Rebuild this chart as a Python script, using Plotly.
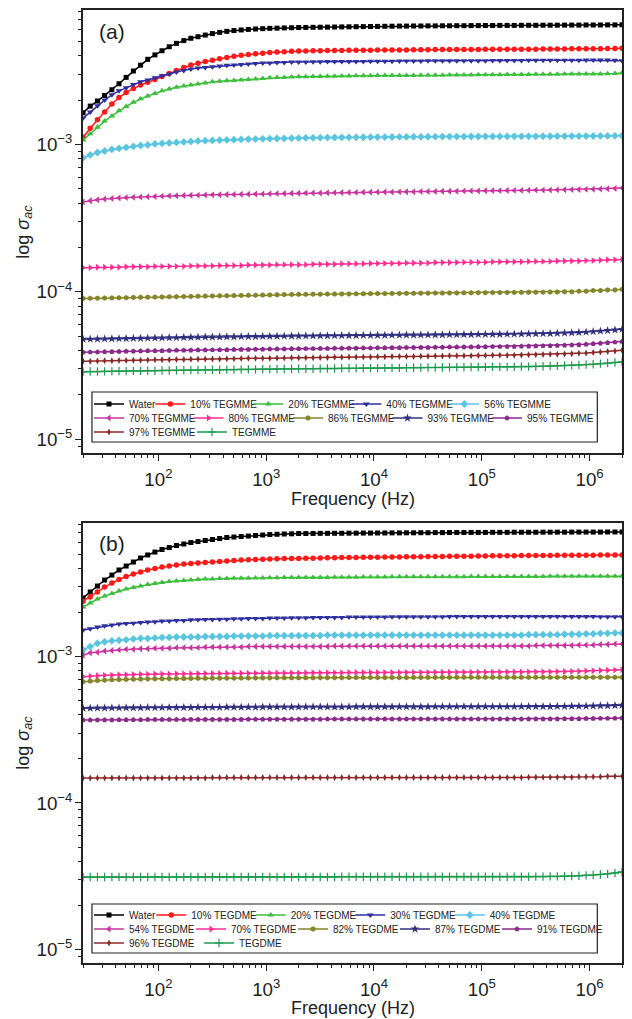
import plotly.graph_objects as go

# ---------------- data ----------------
freq_hz = [
    20, 23.3, 27.2, 31.7, 37.0, 43.1, 50.2, 58.6, 68.3, 79.6, 92.8, 108, 126, 147, 172,
    200, 233, 272, 317, 370, 431, 502, 586, 683, 796, 928, 1080, 1260, 1470, 1720,
    2000, 2330, 2720, 3170, 3700, 4310, 5020, 5860, 6830, 7960, 9280, 10800, 12600, 14700, 17200,
    20000, 23300, 27200, 31700, 37000, 43100, 50200, 58600, 68300, 79600, 92800, 108000, 126000, 147000, 172000,
    200000, 233000, 272000, 317000, 370000, 431000, 502000, 586000, 683000, 796000, 928000, 1080000, 1260000, 1470000, 1720000,
    2000000,
]

# Panel (a): water / TEGMME mixtures
a_names = ["Water", "10% TEGMME", "20% TEGMME", "40% TEGMME", "56% TEGMME", "70% TEGMME",
           "80% TEGMME", "86% TEGMME", "93% TEGMME", "95% TEGMME", "97% TEGMME", "TEGMME"]
a_unit = [1e-3, 1e-3, 1e-3, 1e-3, 1e-3, 1e-3, 1e-5, 1e-5, 1e-5, 1e-5, 1e-5, 1e-5]

a_water = [1.64, 1.82, 1.97, 2.15, 2.35, 2.58, 2.85, 3.15, 3.45, 3.78, 4.05, 4.32, 4.60, 4.85, 5.06,
           5.25, 5.38, 5.52, 5.65, 5.76, 5.85, 5.92, 5.98, 6.03, 6.07, 6.10, 6.13, 6.15, 6.17, 6.19,
           6.21, 6.22, 6.23, 6.24, 6.25, 6.26, 6.27, 6.28, 6.29, 6.30, 6.31, 6.32, 6.33, 6.34, 6.35,
           6.35, 6.36, 6.36, 6.37, 6.37, 6.38, 6.38, 6.39, 6.39, 6.40, 6.40, 6.41, 6.41, 6.42, 6.42,
           6.42, 6.43, 6.43, 6.43, 6.44, 6.44, 6.44, 6.45, 6.45, 6.45, 6.46, 6.46, 6.46, 6.47, 6.47,
           6.48]
a_10 = [1.12, 1.29, 1.47, 1.66, 1.88, 2.08, 2.25, 2.40, 2.53, 2.64, 2.76, 2.89, 3.03, 3.18, 3.32,
        3.46, 3.56, 3.65, 3.73, 3.81, 3.89, 3.96, 4.02, 4.07, 4.12, 4.16, 4.20, 4.23, 4.26, 4.28,
        4.30, 4.31, 4.32, 4.32, 4.33, 4.34, 4.34, 4.35, 4.35, 4.36, 4.36, 4.37, 4.37, 4.38, 4.38,
        4.38, 4.39, 4.39, 4.39, 4.40, 4.40, 4.40, 4.41, 4.41, 4.41, 4.41, 4.42, 4.42, 4.42, 4.42,
        4.43, 4.43, 4.43, 4.43, 4.44, 4.44, 4.44, 4.44, 4.45, 4.45, 4.45, 4.46, 4.46, 4.47, 4.48,
        4.50]
a_20 = [1.07, 1.18, 1.31, 1.44, 1.56, 1.69, 1.81, 1.93, 2.04, 2.13, 2.22, 2.31, 2.38, 2.44, 2.49,
        2.53, 2.57, 2.61, 2.66, 2.68, 2.70, 2.72, 2.74, 2.76, 2.78, 2.80, 2.83, 2.85, 2.85, 2.87,
        2.88, 2.88, 2.89, 2.89, 2.90, 2.90, 2.91, 2.91, 2.92, 2.92, 2.92, 2.93, 2.93, 2.93, 2.94,
        2.94, 2.94, 2.95, 2.95, 2.95, 2.95, 2.96, 2.96, 2.96, 2.96, 2.97, 2.97, 2.97, 2.97, 2.98,
        2.98, 2.98, 2.98, 2.99, 2.99, 2.99, 2.99, 3.00, 3.00, 3.00, 3.00, 3.01, 3.01, 3.02, 3.03,
        3.05]
a_40 = [1.51, 1.66, 1.83, 2.00, 2.17, 2.31, 2.42, 2.55, 2.66, 2.74, 2.83, 2.92, 3.01, 3.10, 3.18,
        3.25, 3.30, 3.33, 3.36, 3.41, 3.44, 3.46, 3.49, 3.52, 3.54, 3.57, 3.57, 3.60, 3.60, 3.63,
        3.63, 3.63, 3.64, 3.64, 3.65, 3.65, 3.65, 3.66, 3.66, 3.66, 3.67, 3.67, 3.67, 3.67, 3.68,
        3.68, 3.68, 3.68, 3.69, 3.69, 3.69, 3.69, 3.70, 3.70, 3.70, 3.70, 3.70, 3.71, 3.71, 3.71,
        3.71, 3.71, 3.72, 3.72, 3.72, 3.72, 3.73, 3.73, 3.73, 3.73, 3.74, 3.74, 3.74, 3.74, 3.72,
        3.70]
a_56 = [0.810, 0.849, 0.882, 0.903, 0.925, 0.940, 0.954, 0.969, 0.984, 0.992, 1.008, 1.016, 1.024, 1.032, 1.040,
        1.048, 1.056, 1.060, 1.065, 1.069, 1.073, 1.077, 1.081, 1.085, 1.088, 1.091, 1.094, 1.097, 1.100, 1.103,
        1.105, 1.107, 1.109, 1.111, 1.113, 1.115, 1.116, 1.117, 1.118, 1.119, 1.120, 1.121, 1.122, 1.123, 1.124,
        1.125, 1.126, 1.127, 1.128, 1.129, 1.130, 1.130, 1.131, 1.131, 1.132, 1.132, 1.133, 1.133, 1.134, 1.134,
        1.135, 1.135, 1.136, 1.136, 1.137, 1.137, 1.138, 1.138, 1.139, 1.139, 1.140, 1.141, 1.142, 1.143, 1.145,
        1.148]
a_70 = [0.407, 0.415, 0.421, 0.426, 0.430, 0.433, 0.436, 0.438, 0.440, 0.442, 0.444, 0.446, 0.448, 0.449, 0.450,
        0.452, 0.453, 0.454, 0.455, 0.456, 0.457, 0.458, 0.459, 0.460, 0.461, 0.462, 0.463, 0.464, 0.465, 0.466,
        0.467, 0.468, 0.469, 0.469, 0.470, 0.471, 0.472, 0.472, 0.473, 0.474, 0.474, 0.475, 0.476, 0.476, 0.477,
        0.478, 0.478, 0.479, 0.480, 0.480, 0.481, 0.482, 0.482, 0.483, 0.484, 0.484, 0.485, 0.486, 0.486, 0.487,
        0.488, 0.488, 0.489, 0.490, 0.490, 0.491, 0.492, 0.493, 0.494, 0.495, 0.496, 0.497, 0.499, 0.501, 0.503,
        0.506]
a_80 = [14.6, 14.6, 14.7, 14.7, 14.7, 14.7, 14.8, 14.8, 14.8, 14.8, 14.9, 14.9, 14.9, 14.9, 14.9,
        15.0, 15.0, 15.0, 15.0, 15.1, 15.1, 15.1, 15.1, 15.2, 15.2, 15.2, 15.2, 15.3, 15.3, 15.3,
        15.3, 15.3, 15.4, 15.4, 15.4, 15.4, 15.5, 15.5, 15.5, 15.5, 15.6, 15.6, 15.6, 15.6, 15.6,
        15.7, 15.7, 15.7, 15.7, 15.8, 15.8, 15.8, 15.8, 15.9, 15.9, 15.9, 15.9, 16.0, 16.0, 16.0,
        16.0, 16.0, 16.1, 16.1, 16.1, 16.1, 16.2, 16.2, 16.2, 16.2, 16.3, 16.3, 16.4, 16.5, 16.5,
        16.6]
a_86 = [9.02, 9.04, 9.06, 9.08, 9.10, 9.12, 9.14, 9.16, 9.18, 9.20, 9.22, 9.24, 9.26, 9.28, 9.30,
        9.32, 9.34, 9.36, 9.38, 9.40, 9.42, 9.44, 9.46, 9.48, 9.50, 9.52, 9.54, 9.56, 9.58, 9.60,
        9.62, 9.63, 9.64, 9.65, 9.66, 9.67, 9.68, 9.69, 9.70, 9.71, 9.72, 9.73, 9.74, 9.75, 9.76,
        9.77, 9.78, 9.79, 9.80, 9.81, 9.82, 9.83, 9.84, 9.85, 9.86, 9.87, 9.88, 9.89, 9.90, 9.91,
        9.92, 9.93, 9.94, 9.95, 9.96, 9.97, 9.98, 10.0, 10.0, 10.1, 10.1, 10.2, 10.2, 10.3, 10.3,
        10.4]
a_93 = [4.77, 4.78, 4.79, 4.80, 4.81, 4.82, 4.83, 4.84, 4.85, 4.86, 4.87, 4.88, 4.89, 4.90, 4.91,
        4.92, 4.93, 4.94, 4.94, 4.95, 4.96, 4.96, 4.97, 4.98, 4.98, 4.99, 5.00, 5.00, 5.01, 5.02,
        5.02, 5.03, 5.03, 5.04, 5.04, 5.05, 5.05, 5.06, 5.06, 5.07, 5.07, 5.08, 5.08, 5.09, 5.09,
        5.10, 5.10, 5.11, 5.11, 5.12, 5.12, 5.13, 5.13, 5.14, 5.14, 5.15, 5.15, 5.16, 5.16, 5.17,
        5.17, 5.18, 5.19, 5.20, 5.21, 5.22, 5.24, 5.26, 5.28, 5.31, 5.34, 5.38, 5.42, 5.47, 5.52,
        5.57]
a_95 = [3.89, 3.90, 3.91, 3.92, 3.93, 3.94, 3.95, 3.96, 3.97, 3.98, 3.98, 3.99, 4.00, 4.01, 4.01,
        4.02, 4.03, 4.03, 4.04, 4.05, 4.05, 4.06, 4.07, 4.07, 4.08, 4.08, 4.09, 4.10, 4.10, 4.11,
        4.11, 4.12, 4.12, 4.13, 4.13, 4.14, 4.14, 4.15, 4.15, 4.16, 4.16, 4.17, 4.17, 4.18, 4.18,
        4.19, 4.19, 4.20, 4.20, 4.21, 4.21, 4.22, 4.22, 4.23, 4.23, 4.24, 4.24, 4.25, 4.25, 4.26,
        4.26, 4.27, 4.28, 4.29, 4.30, 4.31, 4.32, 4.34, 4.36, 4.38, 4.41, 4.44, 4.48, 4.52, 4.56,
        4.60]
a_97 = [3.38, 3.39, 3.40, 3.41, 3.41, 3.42, 3.43, 3.44, 3.44, 3.45, 3.46, 3.46, 3.47, 3.48, 3.48,
        3.49, 3.50, 3.50, 3.51, 3.51, 3.52, 3.52, 3.53, 3.54, 3.54, 3.55, 3.55, 3.56, 3.56, 3.57,
        3.57, 3.58, 3.58, 3.59, 3.59, 3.60, 3.60, 3.61, 3.61, 3.62, 3.62, 3.63, 3.63, 3.64, 3.64,
        3.65, 3.65, 3.66, 3.66, 3.67, 3.67, 3.68, 3.68, 3.69, 3.69, 3.70, 3.70, 3.71, 3.71, 3.72,
        3.72, 3.73, 3.74, 3.75, 3.76, 3.77, 3.78, 3.79, 3.81, 3.83, 3.85, 3.88, 3.91, 3.94, 3.97,
        4.01]
a_teg = [2.87, 2.88, 2.88, 2.89, 2.89, 2.90, 2.90, 2.91, 2.91, 2.92, 2.92, 2.93, 2.93, 2.94, 2.94,
         2.95, 2.95, 2.96, 2.96, 2.96, 2.97, 2.97, 2.98, 2.98, 2.98, 2.99, 2.99, 3.00, 3.00, 3.00,
         3.01, 3.01, 3.01, 3.02, 3.02, 3.02, 3.03, 3.03, 3.03, 3.04, 3.04, 3.04, 3.05, 3.05, 3.05,
         3.06, 3.06, 3.06, 3.07, 3.07, 3.07, 3.08, 3.08, 3.08, 3.09, 3.09, 3.09, 3.10, 3.10, 3.10,
         3.10, 3.11, 3.11, 3.12, 3.13, 3.14, 3.15, 3.16, 3.17, 3.19, 3.21, 3.23, 3.26, 3.29, 3.32,
         3.35]
a_values = [a_water, a_10, a_20, a_40, a_56, a_70, a_80, a_86, a_93, a_95, a_97, a_teg]

# Panel (b): water / TEGDME mixtures
b_names = ["Water", "10% TEGDME", "20% TEGDME", "30% TEGDME", "40% TEGDME", "54% TEGDME",
           "70% TEGDME", "82% TEGDME", "87% TEGDME", "91% TEGDME", "96% TEGDME", "TEGDME"]
b_unit = [1e-3, 1e-3, 1e-3, 1e-3, 1e-3, 1e-3, 1e-3, 1e-3, 1e-4, 1e-4, 1e-4, 1e-5]

b_water = [2.51, 2.76, 3.03, 3.33, 3.60, 3.90, 4.15, 4.42, 4.71, 4.94, 5.17, 5.38, 5.55, 5.73, 5.87,
           6.01, 6.10, 6.20, 6.30, 6.40, 6.50, 6.55, 6.60, 6.65, 6.71, 6.76, 6.81, 6.84, 6.87, 6.89,
           6.92, 6.92, 6.93, 6.94, 6.94, 6.95, 6.95, 6.96, 6.96, 6.97, 6.97, 6.98, 6.98, 6.99, 6.99,
           7.00, 7.00, 7.01, 7.01, 7.02, 7.02, 7.03, 7.03, 7.03, 7.04, 7.04, 7.04, 7.05, 7.05, 7.05,
           7.06, 7.06, 7.06, 7.06, 7.07, 7.07, 7.07, 7.07, 7.08, 7.08, 7.08, 7.08, 7.08, 7.09, 7.09,
           7.09]
b_10 = [2.39, 2.55, 2.76, 2.98, 3.18, 3.36, 3.52, 3.66, 3.78, 3.90, 3.99, 4.09, 4.15, 4.22, 4.28,
        4.32, 4.35, 4.39, 4.42, 4.46, 4.49, 4.53, 4.56, 4.58, 4.60, 4.62, 4.63, 4.65, 4.67, 4.67,
        4.68, 4.69, 4.70, 4.71, 4.72, 4.73, 4.74, 4.74, 4.75, 4.76, 4.77, 4.77, 4.78, 4.79, 4.79,
        4.80, 4.81, 4.81, 4.82, 4.83, 4.83, 4.84, 4.84, 4.85, 4.85, 4.86, 4.86, 4.87, 4.87, 4.88,
        4.88, 4.89, 4.89, 4.90, 4.90, 4.90, 4.91, 4.91, 4.91, 4.92, 4.92, 4.92, 4.93, 4.93, 4.94,
        4.94]
b_20 = [2.18, 2.32, 2.47, 2.59, 2.69, 2.80, 2.89, 2.96, 3.03, 3.10, 3.15, 3.20, 3.25, 3.28, 3.30,
        3.33, 3.36, 3.38, 3.38, 3.41, 3.41, 3.42, 3.43, 3.43, 3.44, 3.44, 3.45, 3.45, 3.46, 3.46,
        3.46, 3.47, 3.47, 3.47, 3.47, 3.48, 3.48, 3.48, 3.48, 3.49, 3.49, 3.49, 3.49, 3.50, 3.50,
        3.50, 3.50, 3.50, 3.51, 3.51, 3.51, 3.51, 3.51, 3.51, 3.52, 3.52, 3.52, 3.52, 3.52, 3.52,
        3.52, 3.52, 3.52, 3.52, 3.52, 3.53, 3.53, 3.53, 3.53, 3.53, 3.53, 3.53, 3.53, 3.53, 3.53,
        3.54]
b_30 = [1.52, 1.55, 1.59, 1.62, 1.64, 1.67, 1.68, 1.69, 1.71, 1.72, 1.73, 1.75, 1.75, 1.76, 1.76,
        1.78, 1.78, 1.79, 1.79, 1.80, 1.80, 1.81, 1.81, 1.82, 1.82, 1.82, 1.83, 1.83, 1.83, 1.84,
        1.84, 1.84, 1.85, 1.85, 1.85, 1.85, 1.85, 1.86, 1.86, 1.86, 1.86, 1.86, 1.86, 1.87, 1.87,
        1.87, 1.87, 1.87, 1.87, 1.87, 1.87, 1.88, 1.88, 1.88, 1.88, 1.88, 1.88, 1.88, 1.88, 1.88,
        1.88, 1.88, 1.88, 1.88, 1.88, 1.88, 1.88, 1.88, 1.88, 1.88, 1.88, 1.88, 1.87, 1.87, 1.87,
        1.87]
b_40 = [1.11, 1.17, 1.23, 1.26, 1.28, 1.29, 1.30, 1.32, 1.33, 1.33, 1.34, 1.35, 1.35, 1.36, 1.36,
        1.36, 1.36, 1.37, 1.37, 1.37, 1.37, 1.38, 1.38, 1.38, 1.38, 1.38, 1.39, 1.39, 1.39, 1.39,
        1.39, 1.39, 1.39, 1.39, 1.40, 1.40, 1.40, 1.40, 1.40, 1.40, 1.40, 1.40, 1.40, 1.40, 1.40,
        1.40, 1.40, 1.40, 1.40, 1.40, 1.40, 1.40, 1.40, 1.40, 1.40, 1.40, 1.40, 1.40, 1.40, 1.40,
        1.40, 1.40, 1.41, 1.41, 1.41, 1.41, 1.41, 1.42, 1.42, 1.42, 1.43, 1.43, 1.44, 1.44, 1.45,
        1.45]
b_54 = [1.02, 1.06, 1.07, 1.09, 1.10, 1.11, 1.12, 1.12, 1.13, 1.13, 1.14, 1.14, 1.14, 1.15, 1.15,
        1.15, 1.15, 1.16, 1.16, 1.16, 1.16, 1.16, 1.16, 1.17, 1.17, 1.17, 1.17, 1.17, 1.17, 1.17,
        1.17, 1.17, 1.17, 1.17, 1.17, 1.18, 1.18, 1.18, 1.18, 1.18, 1.18, 1.18, 1.18, 1.18, 1.18,
        1.18, 1.18, 1.18, 1.18, 1.18, 1.18, 1.18, 1.18, 1.18, 1.18, 1.18, 1.18, 1.18, 1.18, 1.18,
        1.18, 1.18, 1.18, 1.19, 1.19, 1.19, 1.19, 1.19, 1.19, 1.20, 1.20, 1.20, 1.21, 1.21, 1.22,
        1.22]
b_70 = [0.728, 0.735, 0.740, 0.744, 0.747, 0.750, 0.752, 0.754, 0.756, 0.758, 0.759, 0.760, 0.761, 0.762, 0.763,
        0.764, 0.765, 0.766, 0.766, 0.767, 0.768, 0.768, 0.769, 0.770, 0.770, 0.771, 0.771, 0.772, 0.772, 0.773,
        0.773, 0.774, 0.774, 0.775, 0.775, 0.776, 0.776, 0.777, 0.777, 0.777, 0.778, 0.778, 0.778, 0.779, 0.779,
        0.779, 0.780, 0.780, 0.780, 0.781, 0.781, 0.781, 0.782, 0.782, 0.782, 0.783, 0.783, 0.783, 0.784, 0.784,
        0.785, 0.785, 0.786, 0.786, 0.787, 0.788, 0.789, 0.790, 0.792, 0.794, 0.796, 0.799, 0.802, 0.805, 0.808,
        0.812]
b_82 = [0.673, 0.680, 0.686, 0.690, 0.693, 0.696, 0.698, 0.700, 0.702, 0.703, 0.704, 0.705, 0.706, 0.707, 0.708,
        0.709, 0.710, 0.710, 0.711, 0.711, 0.712, 0.712, 0.713, 0.713, 0.714, 0.714, 0.714, 0.715, 0.715, 0.715,
        0.716, 0.716, 0.716, 0.717, 0.717, 0.717, 0.717, 0.718, 0.718, 0.718, 0.718, 0.719, 0.719, 0.719, 0.719,
        0.719, 0.720, 0.720, 0.720, 0.720, 0.720, 0.720, 0.721, 0.721, 0.721, 0.721, 0.721, 0.721, 0.721, 0.721,
        0.721, 0.721, 0.721, 0.721, 0.721, 0.721, 0.721, 0.721, 0.721, 0.721, 0.721, 0.721, 0.721, 0.721, 0.721,
        0.721]
b_87 = [4.43, 4.44, 4.45, 4.45, 4.46, 4.46, 4.47, 4.47, 4.47, 4.48, 4.48, 4.48, 4.49, 4.49, 4.49,
        4.49, 4.50, 4.50, 4.50, 4.50, 4.51, 4.51, 4.51, 4.51, 4.51, 4.52, 4.52, 4.52, 4.52, 4.52,
        4.52, 4.53, 4.53, 4.53, 4.53, 4.53, 4.53, 4.53, 4.54, 4.54, 4.54, 4.54, 4.54, 4.54, 4.54,
        4.54, 4.54, 4.54, 4.54, 4.55, 4.55, 4.55, 4.55, 4.55, 4.55, 4.55, 4.55, 4.55, 4.55, 4.55,
        4.55, 4.55, 4.56, 4.56, 4.56, 4.56, 4.57, 4.57, 4.58, 4.58, 4.59, 4.60, 4.61, 4.62, 4.63,
        4.65]
b_91 = [3.68, 3.68, 3.69, 3.69, 3.69, 3.70, 3.70, 3.70, 3.70, 3.71, 3.71, 3.71, 3.71, 3.71, 3.71,
        3.72, 3.72, 3.72, 3.72, 3.72, 3.72, 3.72, 3.72, 3.73, 3.73, 3.73, 3.73, 3.73, 3.73, 3.73,
        3.73, 3.73, 3.73, 3.73, 3.74, 3.74, 3.74, 3.74, 3.74, 3.74, 3.74, 3.74, 3.74, 3.74, 3.74,
        3.74, 3.74, 3.74, 3.74, 3.74, 3.74, 3.74, 3.74, 3.74, 3.74, 3.74, 3.74, 3.74, 3.74, 3.74,
        3.74, 3.74, 3.75, 3.75, 3.75, 3.75, 3.75, 3.76, 3.76, 3.76, 3.77, 3.77, 3.78, 3.78, 3.79,
        3.80]
b_96 = [1.48, 1.48, 1.48, 1.48, 1.48, 1.48, 1.48, 1.48, 1.48, 1.48, 1.48, 1.48, 1.48, 1.48, 1.48,
        1.48, 1.48, 1.48, 1.49, 1.49, 1.49, 1.49, 1.49, 1.49, 1.49, 1.49, 1.49, 1.49, 1.49, 1.49,
        1.49, 1.49, 1.49, 1.49, 1.49, 1.49, 1.49, 1.49, 1.49, 1.49, 1.49, 1.49, 1.49, 1.49, 1.49,
        1.49, 1.49, 1.49, 1.49, 1.49, 1.49, 1.49, 1.49, 1.49, 1.49, 1.49, 1.49, 1.49, 1.49, 1.49,
        1.49, 1.49, 1.50, 1.50, 1.50, 1.50, 1.50, 1.50, 1.50, 1.51, 1.51, 1.51, 1.51, 1.52, 1.52,
        1.52]
b_teg = [3.12, 3.12, 3.12, 3.12, 3.12, 3.12, 3.12, 3.12, 3.12, 3.12, 3.12, 3.12, 3.12, 3.12, 3.12,
         3.12, 3.12, 3.12, 3.12, 3.12, 3.12, 3.12, 3.12, 3.12, 3.12, 3.12, 3.12, 3.12, 3.12, 3.12,
         3.12, 3.12, 3.12, 3.12, 3.12, 3.12, 3.13, 3.13, 3.13, 3.13, 3.13, 3.13, 3.13, 3.13, 3.13,
         3.13, 3.13, 3.13, 3.13, 3.13, 3.13, 3.13, 3.13, 3.13, 3.13, 3.13, 3.13, 3.13, 3.13, 3.13,
         3.13, 3.13, 3.13, 3.14, 3.14, 3.15, 3.15, 3.16, 3.17, 3.18, 3.20, 3.22, 3.25, 3.28, 3.32,
         3.38]
b_values = [b_water, b_10, b_20, b_30, b_40, b_54, b_70, b_82, b_87, b_91, b_96, b_teg]

# ---------------- styles ----------------
W, H = 632, 1019
FONT = "Liberation Sans, Arial, Helvetica, sans-serif"
AX = "#222222"

colors = ["#000000", "#FF1A1A", "#3DBE3D", "#2E2E9E", "#5BC5E0", "#C9359E",
          "#FF2E93", "#85852A", "#30307F", "#8A2A8A", "#8B2A2A", "#1E9A50"]
symbols = ["square", "circle", "triangle-up", "triangle-down", "diamond", "triangle-left",
           "triangle-right", "hexagon", "star", "pentagon", "diamond-tall", "cross-thin"]
sizes = [5, 5.5, 6, 6, 6, 6, 6, 5.5, 6.5, 5.5, 5, 6]
legend_rows_a = ["legend", "legend2", "legend2", "legend2", "legend2",
                 "legend3", "legend3", "legend3", "legend3", "legend3", "legend4", "legend4"]
legend_rows_b = ["legend5", "legend6", "legend6", "legend6", "legend6",
                 "legend7", "legend7", "legend7", "legend7", "legend7", "legend8", "legend8"]
# width reserved for each legend entry's text (px)
legend_w_a = [40, 53, 53, 53, 85, 54.5, 54.5, 54.5, 54.5, 85, 58, 85]
legend_w_b = [40, 54.5, 54.5, 54.5, 85, 57, 57, 57, 57, 90, 65, 85]

fig = go.Figure()


def add_panel(names, values, units, xa, ya, legends, lwidths):
    for i, (nm, vals, u) in enumerate(zip(names, values, units)):
        n = min(len(freq_hz), len(vals))
        open_sym = symbols[i].endswith("thin")
        fig.add_trace(go.Scatter(
            x=freq_hz[:n], y=[v * u for v in vals[:n]], name=nm,
            mode="lines+markers", xaxis=xa, yaxis=ya, legend=legends[i],
            legendwidth=lwidths[i],
            line=dict(color=colors[i], width=1.5),
            marker=dict(symbol=symbols[i], size=sizes[i], color=colors[i],
                        line=dict(width=1.2 if open_sym else 0, color=colors[i])),
        ))


add_panel(a_names, a_values, a_unit, "x", "y", legend_rows_a, legend_w_a)
add_panel(b_names, b_values, b_unit, "x2", "y2", legend_rows_b, legend_w_b)


def py(p):
    return 1 - p / H


XR = [1.30103, 6.30103]
YR = [-5.093, -2.088]
XD = [84 / W, 629 / W]
YD_A = [py(453), py(10)]
YD_B = [py(963), py(523)]

minor_out = dict(ticks="outside", ticklen=3, tickwidth=1, tickcolor=AX, dtick="D1", showgrid=False)
minor_in = dict(ticks="inside", ticklen=3, tickwidth=1, tickcolor=AX, dtick="D1", showgrid=False)


def xaxis(anchor):
    return dict(type="log", range=XR, domain=XD, anchor=anchor, dtick=1, exponentformat="power",
                ticks="outside", ticklen=6, tickwidth=1.3, tickcolor=AX, showline=True,
                linecolor=AX, linewidth=1.6, mirror=True, showgrid=False, zeroline=False,
                tickfont=dict(size=15, family=FONT, color=AX), ticklabelstandoff=3, minor=minor_out)


def yaxis(anchor, dom):
    return dict(type="log", range=YR, domain=dom, anchor=anchor, dtick=1, exponentformat="power",
                ticks="outside", ticklen=6, tickwidth=1.3, tickcolor=AX, showline=True,
                linecolor=AX, linewidth=1.6, mirror=True, showgrid=False, zeroline=False,
                tickfont=dict(size=15, family=FONT, color=AX), minor=minor_out)


def yright(over, anchor):
    return dict(type="log", range=YR, overlaying=over, anchor=anchor, side="right", dtick=1,
                ticks="inside", ticklen=6, tickwidth=1.3, tickcolor=AX, showticklabels=False,
                showline=False, showgrid=False, zeroline=False, minor=minor_in)


def leg(x_line_px, y_px):
    return dict(orientation="h", x=(x_line_px - 5) / W, y=py(y_px), xanchor="left", yanchor="middle",
                entrywidthmode="pixels", bgcolor="rgba(0,0,0,0)", borderwidth=0,
                itemwidth=30, tracegroupgap=0, font=dict(size=10, family=FONT, color=AX))


fig.update_layout(
    width=W, height=H, margin=dict(l=0, r=0, t=0, b=0),
    paper_bgcolor="white", plot_bgcolor="white",
    font=dict(family=FONT, size=14, color=AX), showlegend=True,
    xaxis=xaxis("y"), yaxis=yaxis("x", YD_A),
    xaxis2=xaxis("y2"), yaxis2=yaxis("x2", YD_B),
    yaxis3=yright("y", "x"), yaxis4=yright("y2", "x2"),
    legend=leg(95, 404), legend2=leg(157, 404),
    legend3=leg(95, 418), legend4=leg(95, 432),
    legend5=leg(95, 915), legend6=leg(158, 915),
    legend7=leg(95, 929), legend8=leg(95, 943),
    shapes=[
        dict(type="rect", xref="paper", yref="paper", x0=93 / W, x1=604 / W, y0=py(442), y1=py(392),
             line=dict(color=AX, width=1.2), fillcolor="rgba(0,0,0,0)", layer="above"),
        dict(type="rect", xref="paper", yref="paper", x0=93 / W, x1=604 / W, y0=py(953), y1=py(904),
             line=dict(color=AX, width=1.2), fillcolor="rgba(0,0,0,0)", layer="above"),
    ],
)

ann = [
    ("(a)", 113, 32, 21, 0), ("(b)", 113, 543, 21, 0),
    ("Frequency (Hz)", 356.5, 499, 18, 0), ("Frequency (Hz)", 356.5, 1008, 18, 0),
    ("log <i>σ</i><sub><i>ac</i></sub>", 24, 232, 18, -90),
    ("log <i>σ</i><sub><i>ac</i></sub>", 24, 743, 18, -90),
]
for txt, xp, yp, fs, ang in ann:
    fig.add_annotation(text=txt, x=xp / W, y=py(yp), xref="paper", yref="paper",
                       showarrow=False, xanchor="center", yanchor="middle", textangle=ang,
                       font=dict(size=fs, family=FONT, color=AX))

fig.write_html("out.html")
